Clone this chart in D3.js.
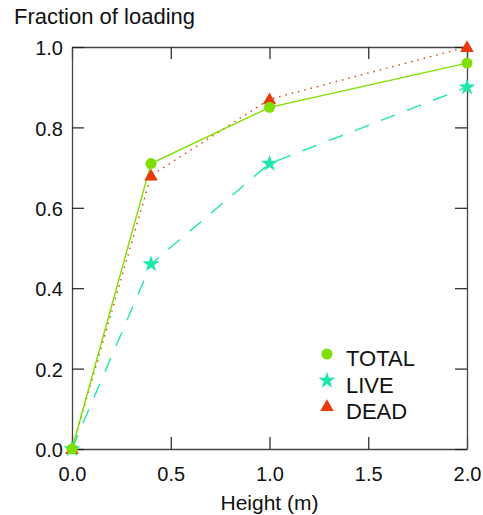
<!DOCTYPE html>
<html>
<head>
<meta charset="utf-8">
<script src="https://cdn.jsdelivr.net/npm/d3@7/dist/d3.min.js"></script>
<style>
  html, body { margin: 0; padding: 0; background: #fff; }
  svg { display: block; font-family: "Liberation Sans", Arial, sans-serif; }
</style>
</head>
<body>
<svg id="chart" width="483" height="515"></svg>
<script>
// Loading fraction by height
const heights = [0, 0.4, 1.0, 2.0];
const totalVals = [0, 0.71, 0.85, 0.96];
const liveVals = [0, 0.46, 0.71, 0.90];
const deadVals = [0, 0.68, 0.87, 1.0];
const xTicks = [0, 0.5, 1.0, 1.5, 2.0];
const yTicks = [0, 0.2, 0.4, 0.6, 0.8, 1.0];
const seriesNames = ["TOTAL", "LIVE", "DEAD"];

const svg = d3.select("#chart");
const L = 72, R = 467, T = 47, B = 449;
const x = d3.scaleLinear().domain([0, 2]).range([L, R]);
const y = d3.scaleLinear().domain([0, 1]).range([B, T]);
const fmt = d3.format(".1f");
const tickLen = 12;
const font = "Liberation Sans, Arial, sans-serif";

// Frame with inward ticks on all four sides
const axes = [
  d3.axisBottom(x).tickValues(xTicks).tickSizeInner(-tickLen).tickSizeOuter(0).tickFormat(fmt),
  d3.axisTop(x).tickValues(xTicks).tickSizeInner(-tickLen).tickSizeOuter(0).tickFormat(""),
  d3.axisLeft(y).tickValues(yTicks).tickSizeInner(-tickLen).tickSizeOuter(0).tickFormat(fmt),
  d3.axisRight(y).tickValues(yTicks).tickSizeInner(-tickLen).tickSizeOuter(0).tickFormat("")
];
const pos = [[0, B], [0, T], [L, 0], [R, 0]];
axes.forEach((ax, i) => {
  const g = svg.append("g").attr("transform", `translate(${pos[i][0]},${pos[i][1]})`).call(ax);
  g.attr("font-size", 20).attr("font-family", font);
  g.select(".domain").attr("stroke", "#444").attr("stroke-width", 1.3);
  g.selectAll(".tick line").attr("stroke", "#222").attr("stroke-width", 1.2);
  g.selectAll(".tick text").attr("fill", "#111");
  if (i === 0) g.selectAll(".tick text").attr("dy", null).attr("y", 32);
  if (i === 2) g.selectAll(".tick text").attr("x", -9).attr("dy", "0.38em");
});

// Axis titles
svg.append("text").attr("x", 14).attr("y", 24).attr("font-size", 22).attr("fill", "#111")
  .attr("font-family", font).text("Fraction of loading");
svg.append("text").attr("x", x(1.0)).attr("y", 510).attr("text-anchor", "middle")
  .attr("font-size", 21).attr("fill", "#111").attr("font-family", font).text("Height (m)");

const colors = { TOTAL: "#7de000", LIVE: "#1ce8ac", DEAD: "#e83a0a" };
const dashes = { TOTAL: null, LIVE: "15,13", DEAD: "1.5,5" };
const values = { TOTAL: totalVals, LIVE: liveVals, DEAD: deadVals };

const line = d3.line().x(d => x(d[0])).y(d => y(d[1]));
const symbols = {
  TOTAL: d3.symbol().type(d3.symbolCircle).size(95),
  LIVE: d3.symbol().type(d3.symbolStar).size(90),
  DEAD: d3.symbol().type(d3.symbolTriangle).size(80)
};

// Draw DEAD under TOTAL so the solid line sits on top
["DEAD", "LIVE", "TOTAL"].forEach(name => {
  const pts = heights.map((h, i) => [h, values[name][i]]);
  svg.append("path").datum(pts).attr("d", line)
    .attr("fill", "none").attr("stroke", colors[name]).attr("stroke-width", 1.4)
    .attr("stroke-dasharray", dashes[name]);
});
["DEAD", "LIVE", "TOTAL"].forEach(name => {
  const pts = heights.map((h, i) => [h, values[name][i]]);
  svg.selectAll(null).data(pts).enter().append("path")
    .attr("d", symbols[name]())
    .attr("transform", d => `translate(${x(d[0])},${y(d[1]) + (name === "DEAD" ? 1 : 0)})`)
    .attr("fill", colors[name]);
});

// Legend
seriesNames.forEach((name, i) => {
  const base = 366 + i * 26.5;
  svg.append("path").attr("d", symbols[name]())
    .attr("transform", `translate(327,${base - 12})`).attr("fill", colors[name]);
  svg.append("text").attr("x", 346).attr("y", base).attr("font-size", 22)
    .attr("font-family", font).attr("fill", "#111").text(name);
});
</script>
</body>
</html>
